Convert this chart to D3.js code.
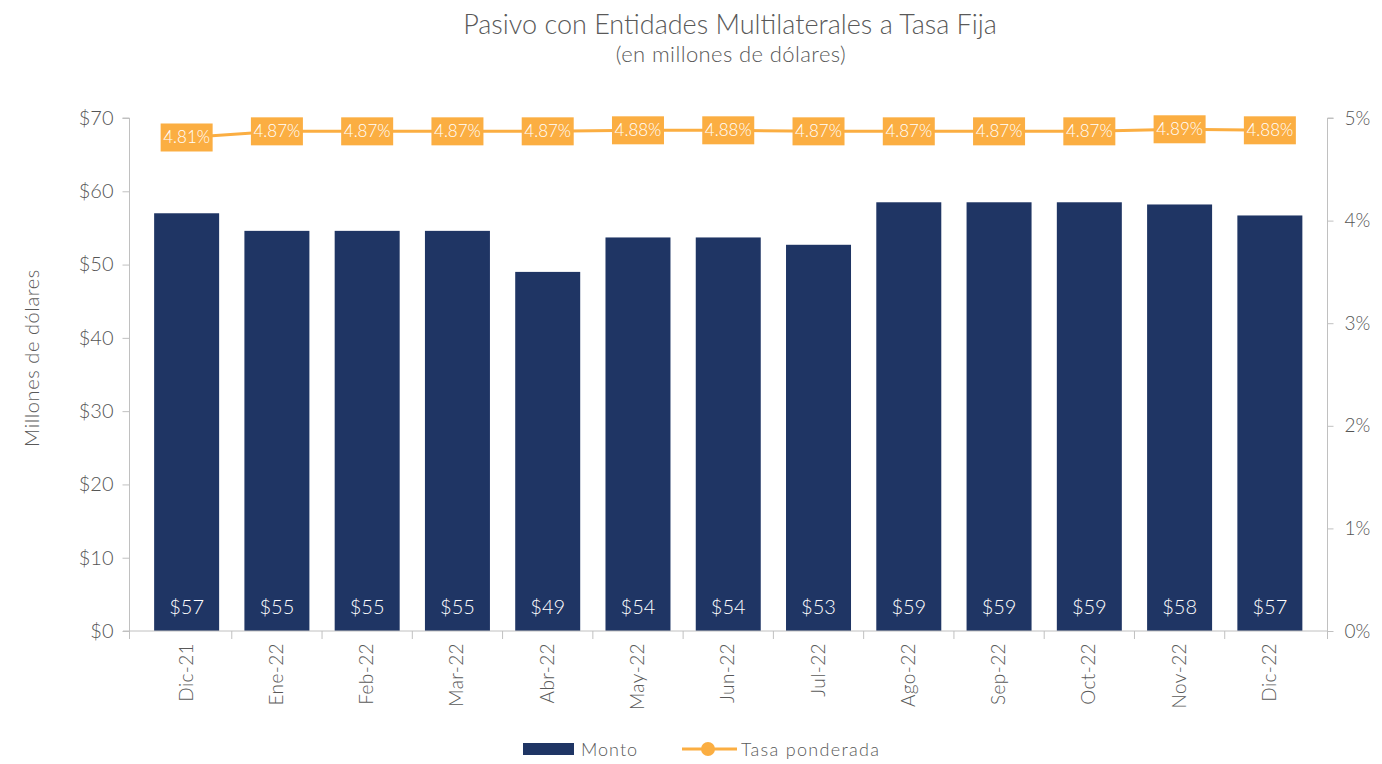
<!DOCTYPE html>
<html>
<head>
<meta charset="utf-8">
<script src="https://cdn.jsdelivr.net/npm/d3@7"></script>
<style>
  html, body { margin: 0; padding: 0; background: #fff; }
  svg { display: block; font-family: Lato, "Open Sans", sans-serif; font-weight: 300; }
</style>
</head>
<body>
<svg id="chart" width="1382" height="764"></svg>
<script>
const categories = ["Dic-21","Ene-22","Feb-22","Mar-22","Abr-22","May-22","Jun-22","Jul-22","Ago-22","Sep-22","Oct-22","Nov-22","Dic-22"];
const monto = [57.0, 54.6, 54.6, 54.6, 49.0, 53.7, 53.7, 52.7, 58.5, 58.5, 58.5, 58.2, 56.7];
const montoLabels = ["$57","$55","$55","$55","$49","$54","$54","$53","$59","$59","$59","$58","$57"];
const tasa = [4.81, 4.87, 4.87, 4.87, 4.87, 4.88, 4.88, 4.87, 4.87, 4.87, 4.87, 4.89, 4.88];
const leftTicks = [0, 10, 20, 30, 40, 50, 60, 70];
const rightTicks = [0, 1, 2, 3, 4, 5];

const navy = "#1f3564";
const orange = "#fbae42";
const textGray = "#595959";
const axisGray = "#c0c0c0";

const svg = d3.select("#chart");

const x = d3.scaleBand().domain(categories).range([141.5, 1315]).paddingInner(0.28).paddingOuter(0.14);
const yL = d3.scaleLinear().domain([0, 70]).range([631, 118]);
const yR = d3.scaleLinear().domain([0, 5]).range([631, 118]);
const leftX = 129.5, rightX = 1327.5;

// Title
svg.append("text").attr("x", 730).attr("y", 34).attr("text-anchor", "middle")
  .attr("font-size", 27).attr("fill", textGray).text("Pasivo con Entidades Multilaterales a Tasa Fija");
svg.append("text").attr("x", 731).attr("y", 62).attr("text-anchor", "middle")
  .attr("font-size", 22).attr("letter-spacing", 0.4).attr("fill", textGray).text("(en millones de dólares)");

// Left axis
const gL = svg.append("g").attr("transform", `translate(${leftX},0)`)
  .call(d3.axisLeft(yL).tickValues(leftTicks).tickSize(7).tickPadding(9).tickFormat(d => "$" + d));
gL.select(".domain").attr("stroke", axisGray).attr("d", `M-7,${yL(70)}H0V${yL(0)}`);
gL.selectAll(".tick line").attr("stroke", axisGray);
gL.selectAll(".tick text").attr("font-size", 20).attr("fill", "#555").attr("font-family", "Lato, sans-serif").attr("font-weight", 300);

// Right axis
const gR = svg.append("g").attr("transform", `translate(${rightX},0)`)
  .call(d3.axisRight(yR).tickValues(rightTicks).tickSize(6).tickPadding(11).tickFormat(d => d + "%"));
gR.select(".domain").attr("stroke", axisGray).attr("d", `M6,${yR(5)}H0V${yR(0)}`);
gR.selectAll(".tick line").attr("stroke", axisGray);
gR.selectAll(".tick text").attr("font-size", 19).attr("fill", "#555").attr("font-family", "Lato, sans-serif").attr("font-weight", 300);

// Y axis title
svg.append("text").attr("transform", "translate(39,358) rotate(-90)").attr("text-anchor", "middle")
  .attr("font-size", 20).attr("letter-spacing", 0.6).attr("fill", textGray).text("Millones de dólares");

// Bars
svg.append("g").selectAll("rect").data(categories).join("rect")
  .attr("x", d => x(d)).attr("width", x.bandwidth())
  .attr("y", (d, i) => yL(monto[i])).attr("height", (d, i) => yL(0) - yL(monto[i]))
  .attr("fill", navy);

// X axis baseline
svg.append("line").attr("x1", 123).attr("x2", rightX).attr("y1", yL(0)).attr("y2", yL(0))
  .attr("stroke", axisGray).attr("stroke-width", 1);
const boundaries = categories.slice(1).map(d => x(d) - x.step() * x.paddingInner() / 2);
svg.append("g").selectAll("line").data([leftX, ...boundaries, rightX]).join("line")
  .attr("x1", d => d).attr("x2", d => d).attr("y1", yL(0)).attr("y2", yL(0) + 8)
  .attr("stroke", axisGray);

// X labels
svg.append("g").selectAll("text").data(categories).join("text")
  .attr("transform", d => `translate(${x(d) + x.bandwidth() / 2 + 6},643) rotate(-90)`)
  .attr("text-anchor", "end").attr("font-size", 19).attr("letter-spacing", 0.4).attr("fill", textGray).text(d => d);

// Bar labels
svg.append("g").selectAll("text").data(categories).join("text")
  .attr("x", d => x(d) + x.bandwidth() / 2).attr("y", 614)
  .attr("text-anchor", "middle").attr("font-size", 20).attr("fill", "#fff")
  .text((d, i) => montoLabels[i]);

// Line
const lineGen = d3.line().x((d, i) => x(categories[i]) + x.bandwidth() / 2).y(d => yR(d));
svg.append("path").datum(tasa).attr("d", lineGen).attr("fill", "none")
  .attr("stroke", orange).attr("stroke-width", 3);

// Line labels (boxes)
const lbl = svg.append("g").selectAll("g").data(tasa).join("g")
  .attr("transform", (d, i) => `translate(${x(categories[i]) + x.bandwidth() / 2},${yR(d)})`);
lbl.append("rect").attr("x", -26).attr("y", -14).attr("width", 52).attr("height", 28).attr("fill", orange);
lbl.append("text").attr("text-anchor", "middle").attr("y", 6).attr("font-size", 17)
  .attr("fill", "#fff").text(d => d.toFixed(2) + "%");

// Legend
const lg = svg.append("g");
lg.append("rect").attr("x", 523).attr("y", 743).attr("width", 51).attr("height", 12).attr("fill", navy);
lg.append("text").attr("x", 581).attr("y", 756).attr("font-size", 18).attr("letter-spacing", 1).attr("fill", textGray).text("Monto");
lg.append("line").attr("x1", 682).attr("x2", 737).attr("y1", 749).attr("y2", 749).attr("stroke", orange).attr("stroke-width", 3);
lg.append("circle").attr("cx", 708).attr("cy", 749).attr("r", 7).attr("fill", orange);
lg.append("text").attr("x", 741).attr("y", 756).attr("font-size", 18).attr("letter-spacing", 1.3).attr("fill", textGray).text("Tasa ponderada");
</script>
</body>
</html>
